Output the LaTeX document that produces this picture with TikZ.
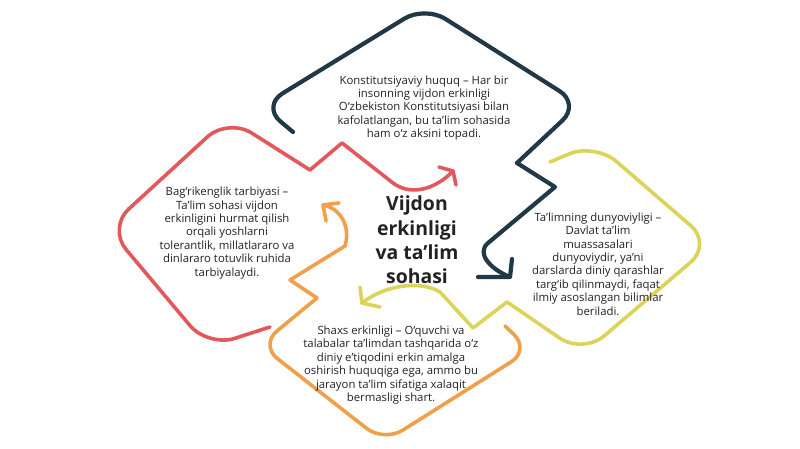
\documentclass[tikz,border=0pt]{standalone}
\usepackage{fontspec}
\setmainfont{Open Sans}
\definecolor{inkblue}{HTML}{213845}
\definecolor{redline}{HTML}{E2595B}
\definecolor{orangeline}{HTML}{F0A04B}
\definecolor{yellowline}{HTML}{DCD35A}
\definecolor{textgray}{HTML}{222222}

\begin{document}
\begin{tikzpicture}[x=1bp,y=-1bp,
  loopline/.style={line width=3.6bp,line cap=round,line join=round},
  note/.style={align=center,text=textgray,inner sep=0pt,
    font=\fontsize{11.4}{13.5}\selectfont},
  topic/.style={align=center,text=textgray,inner sep=0pt,
    font=\fontsize{19.5}{24.5}\selectfont\bfseries}]
\useasboundingbox (0,0) rectangle (800,449);

% dark loop
\draw [loopline,inkblue,line width=4.2bp] (293,132) [rounded corners=24bp] -- (262,106) -- (425,6) -- (580,104) -- (517,163);
\draw [loopline,inkblue,line width=4.2bp] (517,163) -- (555,187) -- (488,243) .. controls (476,253) and (490,269) .. (510,277);
\draw [loopline,inkblue,line width=4.2bp] (478,277) -- (510,277) -- (512,259);

% red loop
\draw [loopline,redline] (270,327) [rounded corners=28bp] -- (208,347) -- (108,228) -- (228,118) -- (310,170);
\draw [loopline,redline] (310,170) -- (342,143) -- (393,183) .. controls (410,196) and (435,190) .. (453,171);
\draw [loopline,redline] (439,167) -- (453,171) -- (456,185);

% orange loop
\draw [loopline,orangeline] (505,326) [rounded corners=22bp] -- (530,350) -- (384,442) -- (260,345) -- (317,298);
\draw [loopline,orangeline] (317,298) -- (290,280) -- (345,246) .. controls (351,226) and (340,208) .. (323,205);
\draw [loopline,orangeline] (339,203) -- (323,205) -- (326,221);

% yellow loop
\draw [loopline,yellowline] (550,162) [rounded corners=28bp] -- (595,143) -- (712,244) -- (583,354) -- (507,302);
\draw [loopline,yellowline] (507,302) -- (473,328) -- (440,292) .. controls (420,280) and (385,285) .. (362,303);
\draw [loopline,yellowline] (360,287) -- (362,303) -- (380,307);

% texts
\node [topic] (theme) at (417,240) {Vijdon\\erkinligi\\va ta’lim\\sohasi};
\node [note] (law) at (424,108) {Konstitutsiyaviy huquq – Har bir\\insonning vijdon erkinligi\\O‘zbekiston Konstitutsiyasi bilan\\kafolatlangan, bu ta’lim sohasida\\ham o‘z aksini topadi.};
\node [note] (tolerance) at (227,233) {Bag‘rikenglik tarbiyasi –\\Ta’lim sohasi vijdon\\erkinligini hurmat qilish\\orqali yoshlarni\\tolerantlik, millatlararo va\\dinlararo totuvlik ruhida\\tarbiyalaydi.};
\node [note] (secular) at (598,264) {Ta’limning dunyoviyligi –\\Davlat ta’lim\\muassasalari\\dunyoviydir, ya’ni\\darslarda diniy qarashlar\\targ‘ib qilinmaydi, faqat\\ilmiy asoslangan bilimlar\\beriladi.};
\node [note] (person) at (391,365) {Shaxs erkinligi – O‘quvchi va\\talabalar ta’limdan tashqarida o‘z\\diniy e’tiqodini erkin amalga\\oshirish huquqiga ega, ammo bu\\jarayon ta’lim sifatiga xalaqit\\bermasligi shart.};
\end{tikzpicture}
\end{document}
